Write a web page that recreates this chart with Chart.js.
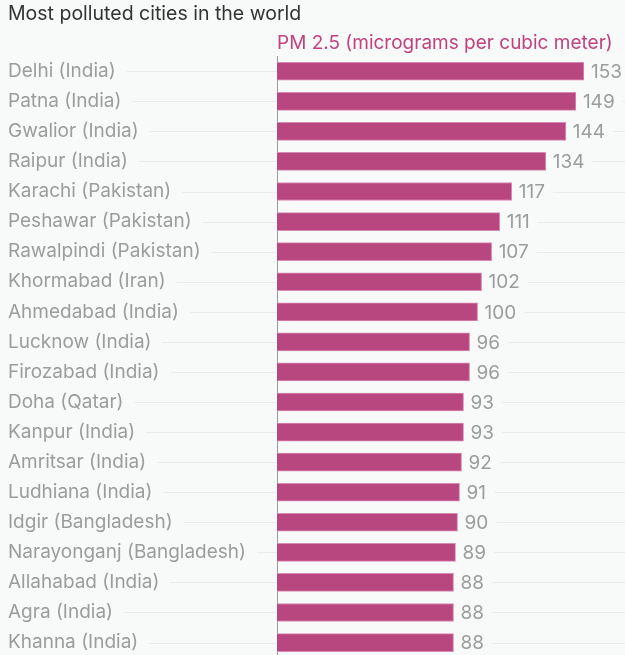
<!DOCTYPE html>
<html>
<head>
<meta charset="utf-8">
<script src="https://cdn.jsdelivr.net/npm/chart.js@4"></script>
<style>
  html, body { margin: 0; padding: 0; background: #f8f9f9; overflow: hidden; }
  canvas { display: block; }
</style>
</head>
<body>
<canvas id="barChart" width="625" height="669"></canvas>
<script>
const cities = [
  "Delhi (India)", "Patna (India)", "Gwalior (India)", "Raipur (India)",
  "Karachi (Pakistan)", "Peshawar (Pakistan)", "Rawalpindi (Pakistan)",
  "Khormabad (Iran)", "Ahmedabad (India)", "Lucknow (India)",
  "Firozabad (India)", "Doha (Qatar)", "Kanpur (India)", "Amritsar (India)",
  "Ludhiana (India)", "Idgir (Bangladesh)", "Narayonganj (Bangladesh)",
  "Allahabad (India)", "Agra (India)", "Khanna (India)"
];
const pm25 = [153, 149, 144, 134, 117, 111, 107, 102, 100, 96, 96, 93, 93, 92, 91, 90, 89, 88, 88, 88];

const FONT = "Inter, 'Open Sans', sans-serif";
const LABEL_SIZE = 19;
const GRAY = "#9c9c9c";
const GRID = "#ebecec";

// faint row lines beside the labels and the value texts
const rowLines = {
  id: "rowLines",
  beforeDatasetsDraw(chart) {
    const { ctx, chartArea } = chart;
    const yScale = chart.scales.y;
    const meta = chart.getDatasetMeta(0);
    ctx.save();
    ctx.strokeStyle = GRID;
    ctx.lineWidth = 1;
    ctx.font = LABEL_SIZE + "px " + FONT;
    cities.forEach((c, i) => {
      const y = Math.round(yScale.getPixelForValue(i)) + 0.5;
      const x0 = yScale.left + ctx.measureText(c).width + 11;
      ctx.beginPath();
      ctx.moveTo(x0, y);
      ctx.lineTo(chartArea.left, y);
      ctx.stroke();
      const bar = meta.data[i];
      const x1 = bar.x + 7 + ctx.measureText(String(pm25[i])).width + 8;
      ctx.beginPath();
      ctx.moveTo(x1, y);
      ctx.lineTo(chart.width, y);
      ctx.stroke();
    });
    ctx.restore();
  },
  afterDatasetsDraw(chart) {
    const { ctx } = chart;
    const meta = chart.getDatasetMeta(0);
    ctx.save();
    ctx.fillStyle = GRAY;
    ctx.font = LABEL_SIZE + "px " + FONT;
    ctx.textBaseline = "middle";
    ctx.textAlign = "left";
    meta.data.forEach((bar, i) => {
      ctx.fillText(String(pm25[i]), bar.x + 7, bar.y + 1);
    });
    ctx.restore();
  }
};

new Chart(document.getElementById("barChart"), {
  type: "bar",
  data: {
    labels: cities,
    datasets: [{
      label: "PM 2.5 (micrograms per cubic meter)",
      data: pm25,
      backgroundColor: "#b9477f",
      borderColor: "#d98ab2",
      borderWidth: 1,
      barThickness: 18
    }]
  },
  options: {
    indexAxis: "y",
    responsive: false,
    animation: false,
    layout: { padding: { left: 8, right: 7, top: 0, bottom: 0 } },
    plugins: {
      legend: { display: false },
      tooltip: { enabled: false },
      title: {
        display: true,
        text: "Most polluted cities in the world",
        align: "start",
        color: "#333333",
        font: { family: FONT, size: 19.5, weight: "normal" },
        padding: { top: 2, bottom: 4 }
      },
      subtitle: {
        display: true,
        fullSize: false,
        text: "PM 2.5 (micrograms per cubic meter)",
        align: "start",
        color: "#c0437f",
        font: { family: FONT, size: 19, weight: "normal" },
        padding: { top: 2, bottom: 2 }
      }
    },
    scales: {
      x: {
        display: false,
        min: 0,
        max: 170
      },
      y: {
        afterFit(scale) { scale.width = 269; },
        grid: { display: false },
        border: { display: true, color: "#9a9a9a", width: 1 },
        ticks: {
          crossAlign: "far",
          padding: 0,
          color: GRAY,
          font: { family: FONT, size: LABEL_SIZE }
        }
      }
    }
  },
  plugins: [rowLines]
});
</script>
</body>
</html>
